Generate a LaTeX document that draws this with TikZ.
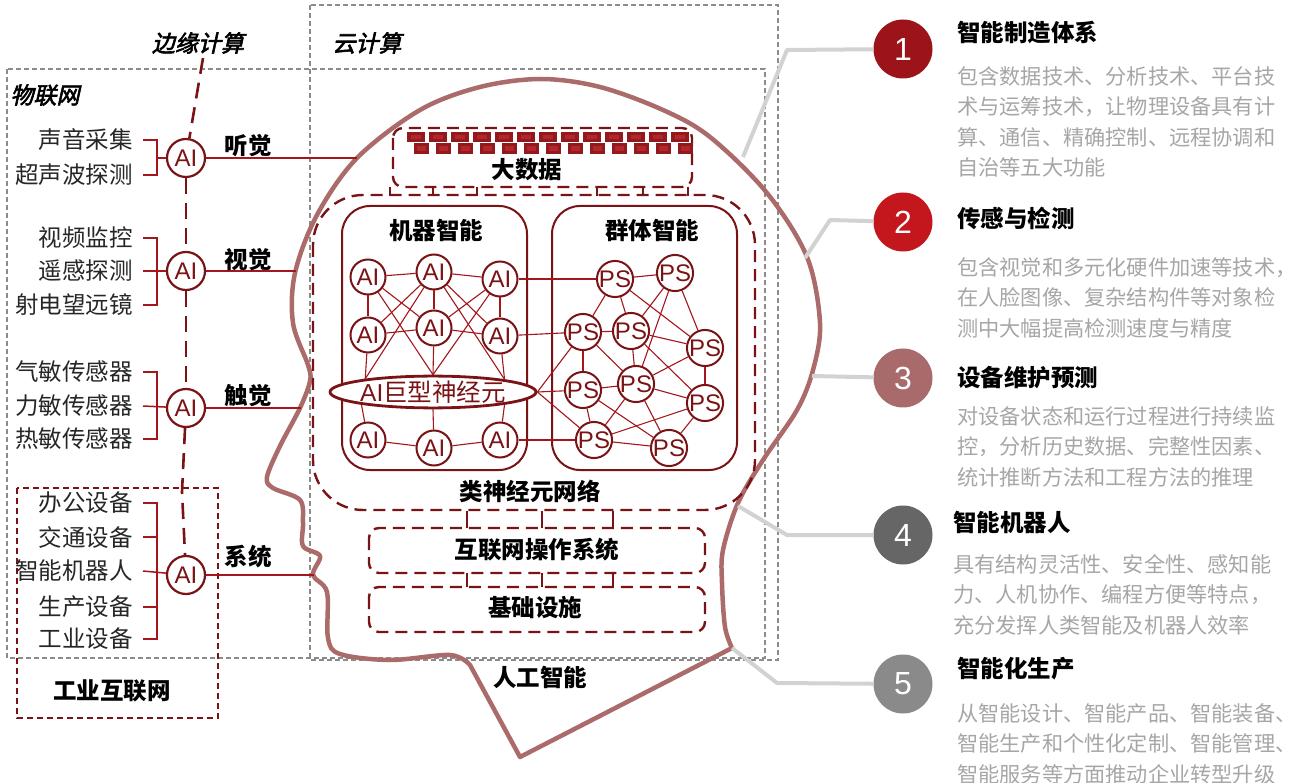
\documentclass[tikz,border=0pt]{standalone}
\usepackage{fontspec}
\setmainfont{Noto Sans CJK SC}
\newfontfamily\arialfont{Liberation Sans}
\newfontfamily\slantfont{Noto Sans CJK SC}[FakeSlant=0.22,FakeBold=2.6]
\usetikzlibrary{shapes.geometric}
\definecolor{DeepRed}{HTML}{7A1315}
\definecolor{LinkRed}{HTML}{A3161C}
\definecolor{BrickRed}{HTML}{921A1E}
\definecolor{BrickLight}{HTML}{B3262B}
\definecolor{HeadRose}{HTML}{AB6B6B}
\definecolor{FrameGray}{HTML}{8C8C8C}
\definecolor{LeadGray}{HTML}{D2D2D2}
\definecolor{DescGray}{HTML}{A6A6A6}
\definecolor{NumOne}{HTML}{9C1419}
\definecolor{NumTwo}{HTML}{C4171D}
\definecolor{NumThree}{HTML}{A86A6A}
\definecolor{NumFour}{HTML}{666666}
\definecolor{NumFive}{HTML}{8A8A8A}
\newcommand{\setfs}[1]{\fontsize{#1}{#1}\selectfont}

\begin{document}
\begin{tikzpicture}[x=1pt, y=-1pt,
    frame/.style={draw=FrameGray, line width=1.4pt, dash pattern=on 5pt off 3pt},
    dashbox/.style={draw=DeepRed, line width=2.4pt, dash pattern=on 12pt off 7pt, rounded corners=10pt},
    groupbox/.style={draw=DeepRed, line width=2pt, rounded corners=28pt},
    tie/.style={draw=DeepRed, line width=2pt},
    head/.style={draw=HeadRose, line width=4.5pt, line join=round},
    edgeline/.style={draw=DeepRed, line width=2.6pt, dash pattern=on 16pt off 9pt},
    bracket/.style={draw=LinkRed, line width=1.5pt},
    sense/.style={draw=LinkRed, line width=2.4pt},
    link/.style={draw=LinkRed, line width=1.1pt},
    leader/.style={draw=LeadGray, line width=4pt, line join=round},
    ai/.style={circle, draw=DeepRed, line width=2.2pt, fill=white, minimum size=38pt, inner sep=0pt,
        text=DeepRed, font=\arialfont\setfs{24}},
    neuron/.style={ai, minimum size=35pt, line width=2pt},
    bigneuron/.style={ellipse, draw=DeepRed, line width=2.8pt, fill=white, minimum width=166pt,
        minimum height=31pt, inner sep=0pt, text=DeepRed, font=\setfs{24.5}},
    device/.style={anchor=east, inner sep=0pt, text=black!85, font=\setfs{23.5}},
    heading/.style={inner sep=0pt, text=black, font=\bfseries\setfs{23.5}},
    slant/.style={inner sep=0pt, text=black, font=\slantfont\setfs{23}},
    number/.style={circle, fill=#1, minimum size=59pt, inner sep=0pt, text=white, font=\arialfont\setfs{32}},
    title/.style={anchor=west, inner sep=0pt, text=black, font=\bfseries\setfs{23.5}},
    desc/.style={anchor=north west, inner sep=0pt, align=left, text=DescGray, font=\fontsize{21.2}{30.5}\selectfont}
]
\useasboundingbox (0,0) rectangle (1296,783);

% frames for cloud and IoT
\draw[frame] (310,5) rectangle (778,660);
\draw[frame] (7,69) rectangle (765,658);
\node[slant] (edgelbl) at (198,43) {边缘计算};
\node[slant] (cloudlbl) at (367,43) {云计算};
\node[slant] (iotlbl) at (45,95) {物联网};

% industrial internet frame
\draw[dashbox, rounded corners=0pt, line width=1.8pt, dash pattern=on 6pt off 4pt] (17,488) rectangle (218,718);
\node[heading] (iiot) at (112,691) {工业互联网};

% head outline
\draw[head] plot[smooth, tension=0.55] coordinates {(732,648) (725,627) (722,583) (723,550) (738,503)
    (763,460) (797,410) (813,370) (820,323) (807,257) (767,193) (710,137) (663,110) (600,87) (541,79)
    (480,87) (420,110) (357,158) (317,215) (295,273) (293,323) (308,365) (310,381) (300,408) (280,446)
    (267,477) (273,488) (300,500) (303,523) (303,546) (320,556) (313,575) (327,592) (328,638) (340,654)
    (390,660) (450,655) (470,665)} -- (520,757) -- cycle;
\coordinate (hear) at (357,158);
\coordinate (see) at (296,271);
\coordinate (touch) at (301,408);
\coordinate (sys) at (314,575);
\node[heading] (ailbl) at (540,677) {人工智能};

% edge AI units
\node[ai] (ai1) at (186,158) {AI};
\node[ai] (ai2) at (186,271) {AI};
\node[ai] (ai3) at (186,408) {AI};
\node[ai] (ai4) at (186,575) {AI};
\coordinate (edgetop) at (203,58);
\coordinate (edgebend) at (182,492);
\draw[edgeline] (edgetop) -- (ai1);
\draw[edgeline] (ai1) -- (ai2);
\draw[edgeline] (ai2) -- (ai3);
\draw[edgeline] (ai3) -- (edgebend) -- (ai4);

% sensors and devices
\node[device] (s1) at (133,140) {声音采集};
\node[device] (s2) at (133,175) {超声波探测};
\node[device] (v1) at (133,238) {视频监控};
\node[device] (v2) at (133,271) {遥感探测};
\node[device] (v3) at (133,305) {射电望远镜};
\node[device] (t1) at (133,372) {气敏传感器};
\node[device] (t2) at (133,406) {力敏传感器};
\node[device] (t3) at (133,439) {热敏传感器};
\node[device] (d1) at (133,503) {办公设备};
\node[device] (d2) at (133,537) {交通设备};
\node[device] (d3) at (133,571) {智能机器人};
\node[device] (d4) at (133,607) {生产设备};
\node[device] (d5) at (133,639) {工业设备};

\draw[bracket] (143,140) -- (157,140) -- (157,175) -- (143,175);
\draw[bracket] (157,158) -- (ai1);
\draw[bracket] (143,238) -- (157,238) -- (157,305) -- (143,305);
\draw[bracket] (143,271) -- (ai2);
\draw[bracket] (143,372) -- (157,372) -- (157,439) -- (143,439);
\draw[bracket] (143,406) -- (ai3);
\draw[bracket] (143,503) -- (157,503) -- (157,639) -- (143,639);
\foreach \y in {537,607} \draw[bracket] (143,\y) -- (157,\y);
\draw[bracket] (143,571) -- (ai4);

% senses into the head
\draw[sense] (ai1) -- (hear);
\draw[sense] (ai2) -- (see);
\draw[sense] (ai3) -- (touch);
\draw[sense] (ai4) -- (sys);
\node[heading] (hearlbl) at (248,146) {听觉};
\node[heading] (seelbl) at (248,260) {视觉};
\node[heading] (touchlbl) at (248,396) {触觉};
\node[heading] (syslbl) at (248,557) {系统};

% big data
\draw[dashbox] (393,128) rectangle (692,187);
\foreach \i in {0,...,12} {
    \fill[BrickRed] (407+22*\i,132) rectangle ++(18,10);
    \fill[BrickLight] (411+22*\i,135) rectangle ++(10,4);
    \fill[BrickRed] (414+22*\i,143) rectangle ++(15,11);
    \fill[BrickLight] (417+22*\i,146) rectangle ++(9,5);
}
\node[heading] (bigdata) at (527,170) {大数据};
\foreach \x in {390,433,477,597,643,688} \draw[tie] (\x,187) -- (\x,196);

% neuromorphic network
\draw[dashbox, rounded corners=50pt] (313,195) rectangle (755,510);
\node[heading] (neurolbl) at (530,491) {类神经元网络};
\draw[groupbox] (342,206) rectangle (527,470);
\draw[groupbox] (552,206) rectangle (737,470);
\node[heading] (machlbl) at (436,230) {机器智能};
\node[heading] (swarmlbl) at (652,230) {群体智能};

\node[neuron] (a1) at (368,277) {AI};
\node[neuron] (a2) at (434,272) {AI};
\node[neuron] (a3) at (500,279) {AI};
\node[neuron] (a4) at (368,335) {AI};
\node[neuron] (a5) at (434,328) {AI};
\node[neuron] (a6) at (500,336) {AI};
\node[bigneuron] (big) at (433,392) {{\arialfont AI}巨型神经元};
\node[neuron] (a7) at (368,440) {AI};
\node[neuron] (a8) at (434,448) {AI};
\node[neuron] (a9) at (500,440) {AI};

\draw[link] (a1) -- (a2) -- (a3);
\draw[link] (a4) -- (a5) -- (a6);
\draw[link] (a7) -- (a8) -- (a9);
\draw[link] (a1) -- (a4);
\draw[link] (a2) -- (a5);
\draw[link] (a3) -- (a6);
\draw[link] (a1) -- (a5);
\draw[link] (a1) -- (big.north);
\draw[link] (a2) -- (a4);
\draw[link] (a2) -- (big.169);
\draw[link] (a2) -- (a6);
\draw[link] (a2) -- (big.10);
\draw[link] (a3) -- (a5);
\draw[link] (a3) -- (big.north);
\draw[link] (a4) -- (big.169);
\draw[link] (a5) -- (big.north);
\draw[link] (a6) -- (big.10);
\draw[link] (big.-170) -- (a7);
\draw[link] (big.south) -- (a8);
\draw[link] (big.-10) -- (a9);

\node[neuron] (p1) at (615,279) {PS};
\node[neuron] (p2) at (675,273) {PS};
\node[neuron] (p3) at (583,332) {PS};
\node[neuron] (p4) at (631,331) {PS};
\node[neuron] (p5) at (705,348) {PS};
\node[neuron] (p6) at (583,390) {PS};
\node[neuron] (p7) at (636,384) {PS};
\node[neuron] (p8) at (705,403) {PS};
\node[neuron] (p9) at (594,440) {PS};
\node[neuron] (p10) at (669,448) {PS};

\foreach \u/\v in {p1/p2, p1/p3, p1/p4, p1/p5, p2/p4, p2/p5, p2/p7, p3/p4, p3/p6, p3/p7, p4/p7,
    p4/p5, p4/p8, p5/p7, p5/p8, p6/p7, p6/p9, p6/p10, p7/p9, p7/p10, p7/p8, p8/p9, p8/p10, p9/p10}
    \draw[link] (\u) -- (\v);

% links across the two groups
\draw[link] (a3) -- (p1);
\draw[link] (a6) -- (p3);
\draw[link] (a9) -- (p9);
\draw[link] (big.east) -- (p3);
\draw[link] (big.east) -- (p6);
\draw[link] (big.east) -- (p9);

% operating system and infrastructure
\foreach \x in {467,542,613} {
    \draw[tie] (\x,511) -- (\x,528);
    \draw[tie] (\x,573) -- (\x,587);
}
\draw[dashbox] (369,528) rectangle (705,573);
\node[heading] (oslbl) at (537,550) {互联网操作系统};
\draw[dashbox] (369,587) rectangle (705,632);
\node[heading] (baselbl) at (535,608) {基础设施};

% numbered items on the right
\node[number=NumOne] (n1) at (903,49) {1};
\node[number=NumTwo] (n2) at (903,222) {2};
\node[number=NumThree] (n3) at (903,378) {3};
\node[number=NumFour] (n4) at (903,535) {4};
\node[number=NumFive] (n5) at (903,684) {5};

\draw[leader] (743,157) -- (787,50) -- (n1);
\draw[leader] (805,258) -- (830,220) -- (n2);
\draw[leader] (812,376) -- (n3);
\draw[leader] (738,506) -- (787,535) -- (n4);
\draw[leader] (732,648) -- (777,683) -- (n5);

\node[title] (h1) at (957,33) {智能制造体系};
\node[desc] (b1) at (957,66) {包含数据技术、分析技术、平台技\\术与运筹技术，让物理设备具有计\\算、通信、精确控制、远程协调和\\自治等五大功能};
\node[title] (h2) at (957,218) {传感与检测};
\node[desc] (b2) at (957,257) {包含视觉和多元化硬件加速等技术，\\在人脸图像、复杂结构件等对象检\\测中大幅提高检测速度与精度};
\node[title] (h3) at (957,378) {设备维护预测};
\node[desc] (b3) at (957,406) {对设备状态和运行过程进行持续监\\控，分析历史数据、完整性因素、\\统计推断方法和工程方法的推理};
\node[title] (h4) at (953,522) {智能机器人};
\node[desc] (b4) at (953,554) {具有结构灵活性、安全性、感知能\\力、人机协作、编程方便等特点，\\充分发挥人类智能及机器人效率};
\node[title] (h5) at (957,669) {智能化生产};
\node[desc] (b5) at (957,703) {从智能设计、智能产品、智能装备、\\智能生产和个性化定制、智能管理、\\智能服务等方面推动企业转型升级};
\end{tikzpicture}
\end{document}
